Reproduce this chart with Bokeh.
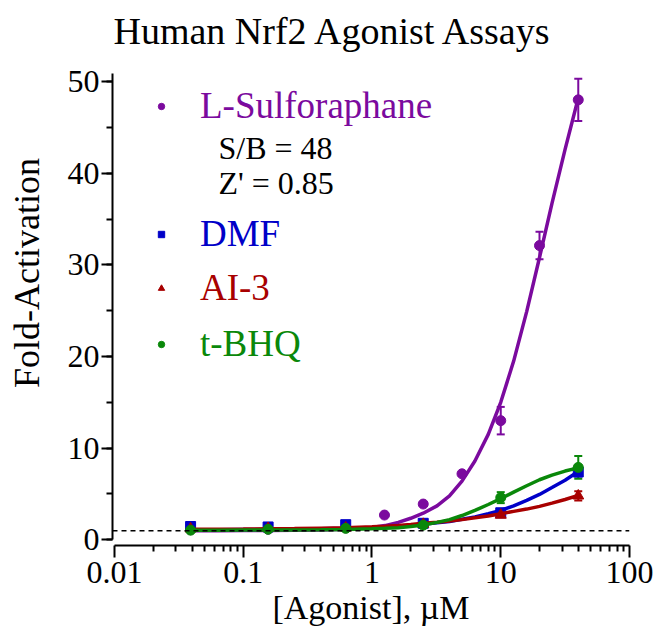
from bokeh.plotting import figure
from bokeh.models import (ColumnDataSource, Whisker, TeeHead, Span, Legend, LegendItem, Label,
                          SingleIntervalTicker, FixedTicker, CustomJSTickFormatter, Range1d)
from bokeh.embed import file_html
from bokeh.resources import INLINE

# ---------------- data ----------------
title_text = "Human Nrf2 Agonist Assays"
x_label = "[Agonist], \u00b5M"
y_label = "Fold-Activation"

sulf_conc = [0.039, 0.156, 0.625, 1.25, 2.5, 5, 10, 20, 40]
sulf_mean = [1.1, 1.15, 1.3, 2.7, 3.9, 7.2, 13.0, 32.1, 48.0]
sulf_err = [0.05, 0.05, 0.05, 0.1, 0.1, 0.2, 1.5, 1.5, 2.3]

conc = [0.039, 0.156, 0.625, 2.5, 10, 40]
dmf_mean = [1.45, 1.4, 1.65, 1.8, 2.95, 7.4]
dmf_err = [0.1, 0.1, 0.1, 0.1, 0.2, 0.5]
ai3_mean = [1.2, 1.25, 1.3, 1.7, 2.7, 4.8]
ai3_err = [0.05, 0.05, 0.05, 0.1, 0.2, 0.5]
tbhq_mean = [1.05, 1.15, 1.25, 1.6, 4.6, 7.9]
tbhq_err = [0.05, 0.05, 0.05, 0.1, 0.6, 1.25]

# fitted curves
fit_conc = [0.039, 0.063, 0.1, 0.16, 0.25, 0.4, 0.63, 1.0, 1.26, 1.6, 2.0, 2.5, 3.2, 4.0,
            5.0, 6.3, 8.0, 10, 12.6, 15.9, 20, 25, 31.6, 40]
sulf_fit = [1.0, 1.0, 1.01, 1.02, 1.03, 1.07, 1.15, 1.35, 1.55, 1.9, 2.35, 2.9, 3.7, 4.8,
            6.4, 8.6, 11.5, 15.0, 19.5, 24.9, 30.8, 36.7, 42.6, 48.2]
dmf_fit = [1.1, 1.1, 1.12, 1.14, 1.17, 1.2, 1.25, 1.35, 1.42, 1.5, 1.6, 1.7, 1.85, 2.0,
           2.25, 2.5, 2.85, 3.2, 3.7, 4.3, 4.95, 5.7, 6.5, 7.45]
ai3_fit = [1.15, 1.15, 1.17, 1.2, 1.22, 1.27, 1.32, 1.42, 1.49, 1.57, 1.68, 1.8, 1.92, 2.05,
           2.2, 2.4, 2.6, 2.85, 3.1, 3.35, 3.65, 4.0, 4.4, 4.85]
tbhq_fit = [1.05, 1.05, 1.06, 1.07, 1.08, 1.1, 1.13, 1.2, 1.25, 1.32, 1.45, 1.62, 1.9, 2.2,
            2.65, 3.2, 3.85, 4.5, 5.2, 5.9, 6.55, 7.05, 7.5, 7.85]

baseline = 1.0
sulf_sb = "S/B = 48"
sulf_z = "Z' = 0.85"

names = ["L-Sulforaphane", "DMF", "AI-3", "t-BHQ"]
colors = ["#7B0A9E", "#0000C8", "#A80000", "#0A880A"]
markers = ["circle", "square", "triangle", "circle"]

FONT = "Liberation Serif"
Y_AXIS_TOP = 50.87

p = figure(width=654, height=638, x_axis_type="log", title=None,
           x_range=Range1d(0.00965, 100), y_range=Range1d(-0.622, 58.84),
           output_backend="svg", toolbar_location=None,
           min_border_left=112, min_border_right=25, min_border_top=0, min_border_bottom=93)

p.outline_line_color = None
p.xgrid.visible = False
p.ygrid.visible = False
p.background_fill_color = "white"
p.border_fill_color = "white"

# axes
xmaj = [0.01, 0.1, 1, 10, 100]
xmin = [m * d for d in [0.01, 0.1, 1, 10] for m in range(2, 10)]
p.xaxis.ticker = FixedTicker(ticks=xmaj, minor_ticks=xmin)
p.xaxis.formatter = CustomJSTickFormatter(code="""
const e = Math.round(Math.log10(tick));
return e < 0 ? Math.pow(10, e).toFixed(-e) : String(Math.round(Math.pow(10, e)));
""")
p.yaxis.ticker = SingleIntervalTicker(interval=10, num_minor_ticks=2)
p.xaxis.bounds = (0.01, 100)
p.yaxis.bounds = (0, Y_AXIS_TOP)

for ax in (p.xaxis[0], p.yaxis[0]):
    ax.axis_line_width = 2
    ax.axis_line_color = "black"
    ax.major_tick_line_width = 2
    ax.minor_tick_line_width = 2
    ax.major_tick_line_color = "black"
    ax.minor_tick_line_color = "black"
    ax.major_tick_in = 0
    ax.minor_tick_in = 0
    ax.major_label_text_font = FONT
    ax.major_label_text_font_size = "32px"
    ax.major_label_text_color = "black"
    ax.axis_label_text_font = FONT
    ax.axis_label_text_font_style = "normal"
    ax.axis_label_text_color = "black"

p.xaxis.axis_label = x_label
p.yaxis.axis_label = y_label
p.xaxis.axis_label_text_font_size = "34px"
p.yaxis.axis_label_text_font_size = "36px"
p.xaxis.major_tick_out = 12
p.xaxis.minor_tick_out = 6
p.yaxis.major_tick_out = 11
p.yaxis.minor_tick_out = 6
p.xaxis.major_label_standoff = 4
p.xaxis.axis_label_standoff = 3
p.yaxis.major_label_standoff = 2
p.yaxis.axis_label_standoff = 18

# chart title, drawn above the top of the y axis
p.add_layout(Label(x=1, y=515, x_units="screen", y_units="screen", text=title_text,
                   text_font=FONT, text_font_size="38px", text_color="black",
                   text_baseline="alphabetic"))

# baseline
p.add_layout(Span(location=baseline, dimension="width", line_dash="5 4",
                  line_color="black", line_width=1.5))

series = [
    (sulf_conc, sulf_mean, sulf_err, sulf_fit),
    (conc, dmf_mean, dmf_err, dmf_fit),
    (conc, ai3_mean, ai3_err, ai3_fit),
    (conc, tbhq_mean, tbhq_err, tbhq_fit),
]

scatter_renderers = []
for (xs, ys, es, fit), col, mk in zip(series, colors, markers):
    src = ColumnDataSource(dict(x=xs, y=ys,
                                upper=[a + b for a, b in zip(ys, es)],
                                lower=[a - b for a, b in zip(ys, es)]))
    w = Whisker(base="x", upper="upper", lower="lower", source=src,
                line_color=col, line_width=2,
                upper_head=TeeHead(size=8, line_color=col, line_width=2),
                lower_head=TeeHead(size=8, line_color=col, line_width=2))
    p.add_layout(w)
    p.line(fit_conc, fit, line_color=col, line_width=3.5)
    sz = 11 if mk == "triangle" else 10
    r = p.scatter("x", "y", source=src, marker=mk, size=sz, fill_color=col, line_color=col)
    scatter_renderers.append(r)

# legends (one per item so each label keeps its colour)
leg_pos = [(41, 418), (41, 290), (41, 236), (41, 180)]
for name, col, r, loc in zip(names, colors, scatter_renderers, leg_pos):
    leg = Legend(items=[LegendItem(label=name, renderers=[r])], location=loc,
                 label_text_font=FONT, label_text_font_size="37px", label_text_color=col,
                 glyph_width=16, glyph_height=16, label_height=40, label_standoff=31,
                 padding=0, spacing=0, margin=0, border_line_color=None,
                 background_fill_alpha=0)
    p.add_layout(leg)

for txt, yy in [(sulf_sb, 398), (sulf_z, 363)]:
    p.add_layout(Label(x=106, y=yy, x_units="screen", y_units="screen", text=txt,
                       text_font=FONT, text_font_size="32px", text_color="black",
                       text_baseline="middle"))

open("out.html", "w").write(file_html(p, INLINE))
